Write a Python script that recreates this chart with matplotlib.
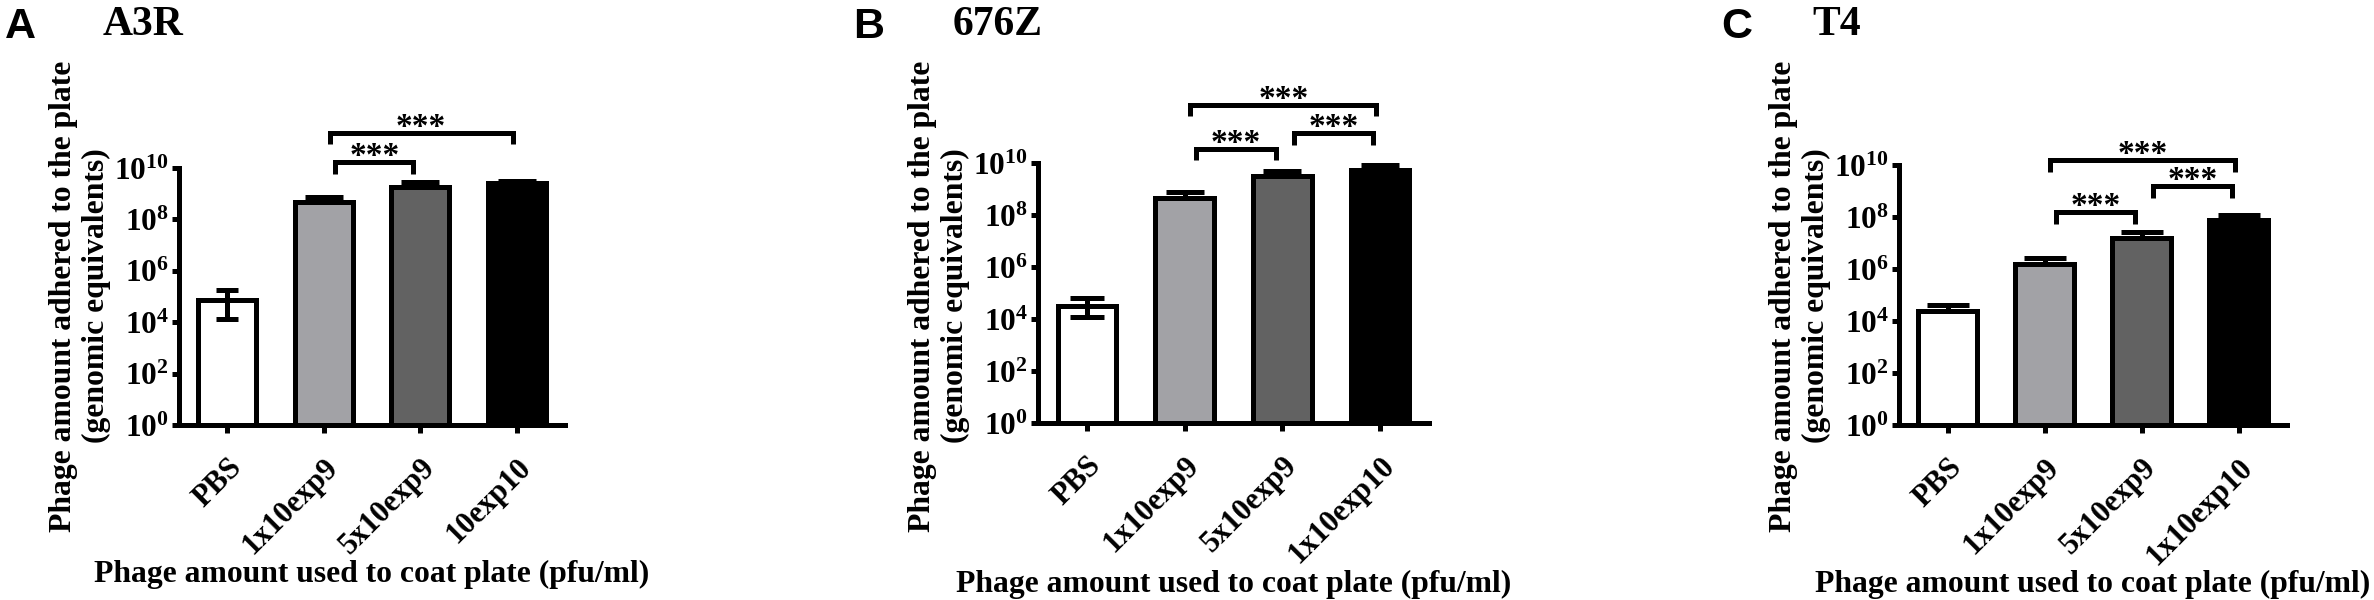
import numpy as np
import matplotlib
matplotlib.use('Agg')
import matplotlib.pyplot as plt

plt.rcParams['mathtext.fontset'] = 'custom'
plt.rcParams['mathtext.rm'] = 'Liberation Serif:bold'
plt.rcParams['mathtext.bf'] = 'Liberation Serif:bold'
plt.rcParams['mathtext.default'] = 'rm'

# groups on the x axis
groups_A = ['PBS', '1x10exp9', '5x10exp9', '10exp10']
groups_BC = ['PBS', '1x10exp9', '5x10exp9', '1x10exp10']

# bar heights and error bar ends (genomic equivalents)
mean_A = [7.4e4, 4.6e8, 1.8e9, 2.5e9]
hi_A = [1.8e5, 7.4e8, 2.8e9, 3.2e9]
lo_A = [1.35e4, 4.6e8, 1.8e9, 2.5e9]

mean_B = [3.1e4, 4.4e8, 3.1e9, 5.2e9]
hi_B = [6.4e4, 7.4e8, 5.1e9, 8.1e9]
lo_B = [1.15e4, 4.4e8, 3.1e9, 5.2e9]

mean_C = [2.4e4, 1.5e6, 1.5e7, 7.6e7]
hi_C = [4.1e4, 2.6e6, 2.6e7, 1.2e8]
lo_C = [2.4e4, 1.5e6, 1.5e7, 7.6e7]

# significance brackets: (group i, group j, log10 height of bar, label)
brk_A = [(1, 2, 10.22, '***'), (1, 3, 11.37, '***')]
brk_B = [(1, 2, 10.54, '***'), (2, 3, 11.15, '***'), (1, 3, 12.24, '***')]
brk_C = [(1, 2, 8.18, '***'), (2, 3, 9.19, '***'), (1, 3, 10.19, '***')]

bar_colors = ['white', '#a2a2a6', '#626262', 'black']

W, H = 2374, 600
fig = plt.figure(figsize=(W / 100.0, H / 100.0), dpi=100)

LW = 3.6
SERIF = 'Liberation Serif'


def add_ax(left, top, right, bottom):
    return fig.add_axes([left / W, 1 - bottom / H, (right - left) / W, (bottom - top) / H])


def panel(ax, groups, mean, hi, lo, brackets, caps):
    x = np.arange(len(groups))
    ax.bar(x, mean, width=0.6, color=bar_colors, edgecolor='black',
           linewidth=LW, zorder=2)
    for k in range(len(x)):
        ax.errorbar(x[k], mean[k],
                    yerr=[[mean[k] - lo[k]], [hi[k] - mean[k]]],
                    fmt='none', ecolor='black', elinewidth=LW,
                    capsize=caps[k], capthick=LW, zorder=3)
    ax.set_yscale('log')
    ax.set_ylim(1, 1e10)
    ax.set_xlim(-0.5, 3.5)
    ax.set_yticks([10.0 ** e for e in range(0, 11, 2)])
    ylabs = []
    for e in range(0, 11, 2):
        if e < 10:
            ylabs.append(r'$10^{%d\enspace}$' % e)
        else:
            ylabs.append(r'$10^{%d}$' % e)
    ax.set_yticklabels(ylabs, fontsize=22.5)
    ax.yaxis.set_minor_locator(matplotlib.ticker.NullLocator())
    ax.set_xticks(x)
    ax.set_xticklabels(groups, rotation=45, ha='right', rotation_mode='anchor',
                       fontsize=22, family=SERIF, weight='bold')
    for s in ['top', 'right']:
        ax.spines[s].set_visible(False)
    for s in ['left', 'bottom']:
        ax.spines[s].set_linewidth(LW)
        ax.spines[s].set_capstyle('projecting')
    ax.tick_params(axis='both', direction='out', length=5.4, width=LW, color='black')
    ax.tick_params(axis='x', pad=15)
    ax.tick_params(axis='y', pad=2)

    leg = 0.44
    for (i, j, h, lab) in brackets:
        if j - i == 1:
            x1, x2 = i + 0.12, j - 0.07
        else:
            x1, x2 = i + 0.06, j - 0.04
        ax.plot([x1, x1, x2, x2],
                [10 ** (h - leg), 10 ** h, 10 ** h, 10 ** (h - leg)],
                color='black', lw=LW, clip_on=False,
                solid_joinstyle='miter', solid_capstyle='butt')
        ax.annotate(lab, xy=((x1 + x2) / 2.0, 10 ** h), xytext=(0, -2),
                    textcoords='offset points', ha='center', va='baseline',
                    fontsize=24, family=SERIF, weight='bold',
                    annotation_clip=False)


axA = add_ax(179, 168, 565, 425)
axB = add_ax(1038, 163, 1429, 423)
axC = add_ax(1899, 165, 2287, 425)

panel(axA, groups_A, mean_A, hi_A, lo_A, brk_A, [8, 14, 14, 14])
panel(axB, groups_BC, mean_B, hi_B, lo_B, brk_B, [12, 14, 14, 14])
panel(axC, groups_BC, mean_C, hi_C, lo_C, brk_C, [15, 15, 15, 15])

ylab = 'Phage amount adhered to the plate\n(genomic equivalents)'
xlab = 'Phage amount used to coat plate (pfu/ml)'

panels = [(179, 565, 'A', 'A3R', 5, 103, 582),
          (1038, 1429, 'B', '676Z', 853, 953, 592),
          (1899, 2287, 'C', 'T4', 1721, 1812, 592)]
for (l, r, letter, title, lx, tx, xb) in panels:
    fig.text((l - 99) / W, 1 - 296.0 / H, ylab, rotation=90, ha='center',
             va='center', multialignment='center', fontsize=22.8,
             family=SERIF, weight='bold')
    fig.text((l + r) / 2.0 / W, 1 - xb / H, xlab, ha='center', va='baseline',
             fontsize=22.8, family=SERIF, weight='bold')
    fig.text(lx / W, 1 - 38.0 / H, letter, ha='left', va='baseline',
             fontsize=31, family='Liberation Sans', weight='bold')
    fig.text(tx / W, 1 - 35.0 / H, title, ha='left', va='baseline',
             fontsize=30, family=SERIF, weight='bold')

fig.savefig('out.png', dpi=100, facecolor='white')
